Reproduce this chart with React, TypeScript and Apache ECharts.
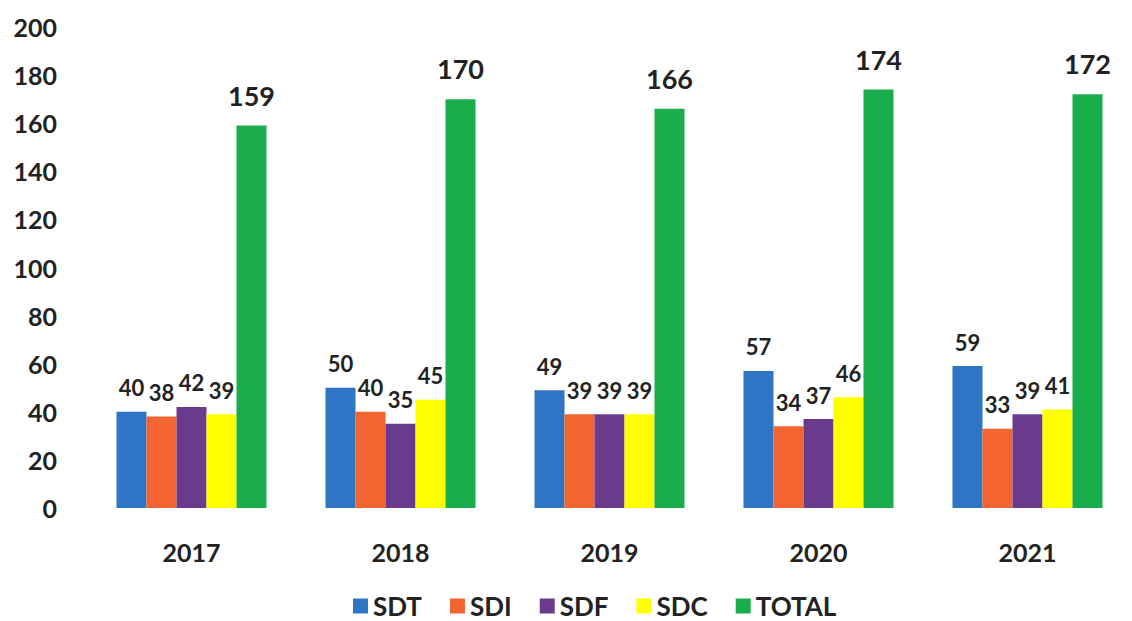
import React, { useEffect, useRef } from "react";
import * as echarts from "echarts";

const categories = ["2017", "2018", "2019", "2020", "2021"];
const sdt = [40, 50, 49, 57, 59];
const sdi = [38, 40, 39, 34, 33];
const sdf = [42, 35, 39, 37, 39];
const sdc = [39, 45, 39, 46, 41];
const total = [159, 170, 166, 174, 172];
const seriesNames = ["SDT", "SDI", "SDF", "SDC", "TOTAL"];
const seriesColors = ["#2F75C5", "#F26531", "#6A3A8C", "#FFFF00", "#1AAD4B"];

const FONT = "Lato";

export default function App() {
  const ref = useRef<HTMLDivElement>(null);
  useEffect(() => {
    document.body.style.margin = "0";
    const chart = echarts.init(ref.current!, null, { renderer: "svg" });
    const data = [sdt, sdi, sdf, sdc, total];
    chart.setOption({
      animation: false,
      backgroundColor: "#ffffff",
      grid: { left: 87, width: 1060, top: 27, bottom: 113, containLabel: false },
      legend: {
        data: seriesNames,
        bottom: -3,
        left: 348,
        icon: "rect",
        itemWidth: 15,
        itemHeight: 15,
        itemGap: 28,
        textStyle: { fontFamily: FONT, fontWeight: "bold", fontSize: 26, color: "#222" },
      },
      xAxis: {
        type: "category",
        data: categories,
        axisLine: { show: false },
        axisTick: { show: false },
        axisLabel: { fontFamily: FONT, fontWeight: "bold", fontSize: 25, color: "#222", margin: 31 },
      },
      yAxis: {
        type: "value",
        min: 0,
        max: 200,
        interval: 20,
        axisLine: { show: false },
        axisTick: { show: false },
        splitLine: { show: false },
        axisLabel: { fontFamily: FONT, fontWeight: "bold", fontSize: 25, color: "#222", margin: 30 },
      },
      series: data.map((d, i) => ({
        name: seriesNames[i],
        type: "bar",
        data: d,
        barWidth: 30,
        barGap: "0%",
        itemStyle: { color: seriesColors[i] },
        label: {
          show: true,
          position: "top",
          distance: i === 4 ? 17 : 13,
          fontFamily: FONT,
          fontWeight: "bold",
          fontSize: i === 4 ? 27 : 22,
          color: "#222",
        },
      })),
    });
    return () => chart.dispose();
  }, []);
  return <div ref={ref} style={{ width: 1132, height: 621 }} />;
}
